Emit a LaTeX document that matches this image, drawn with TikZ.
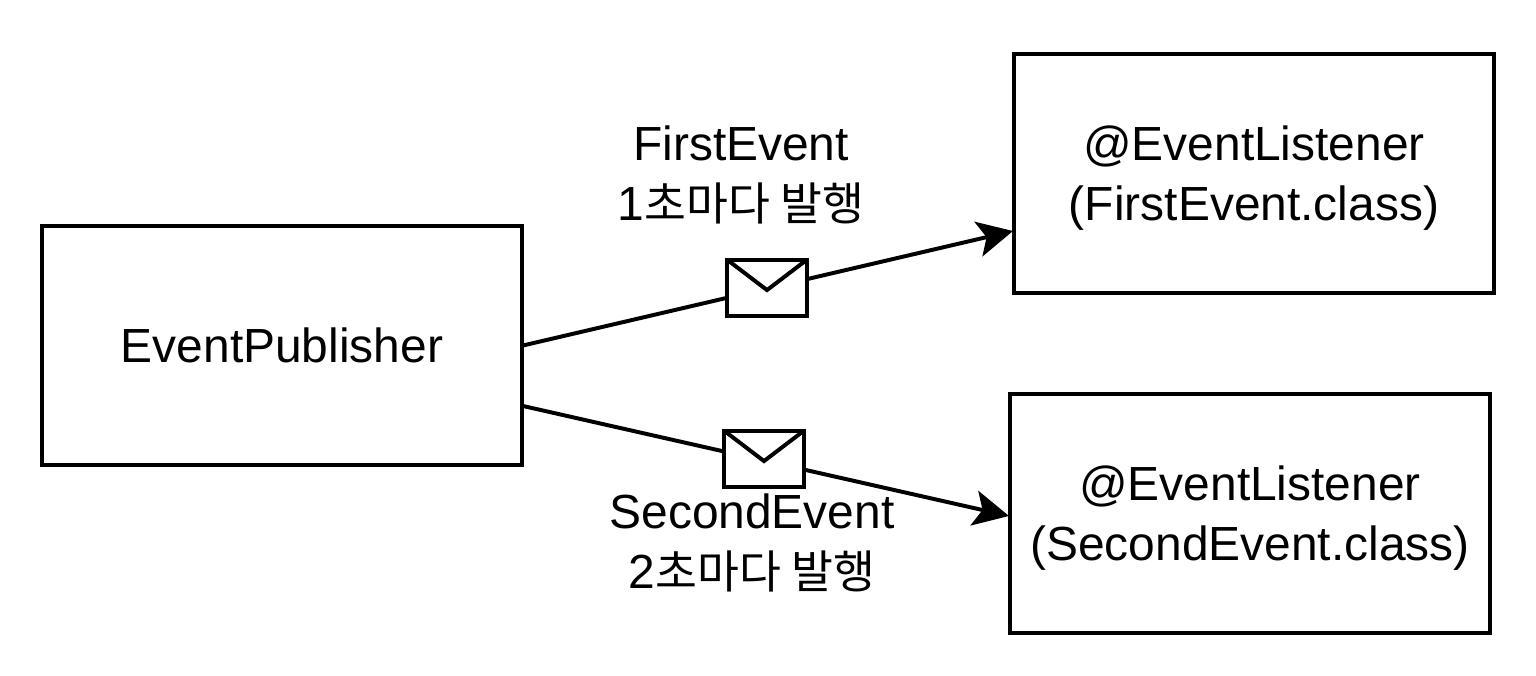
\documentclass[tikz,border=0pt]{standalone}
\usepackage{fontspec}
\setmainfont{Liberation Sans}
\newfontfamily\cjk[Scale=0.95]{Noto Sans CJK KR}
\usetikzlibrary{arrows.meta}
\tikzset{
  box/.style={draw,line width=1.9pt,fill=white,inner sep=0pt,minimum width=230.2pt,minimum height=114.8pt},
  flow/.style={line width=1.9pt,-{Stealth[length=17pt,width=17pt,inset=4pt]}},
  label/.style={font=\fontsize{23pt}{28.8pt}\selectfont,align=center},
  envelope/.style={draw,line width=1.9pt,fill=white,inner sep=0pt,minimum width=38pt,minimum height=26.5pt},
  flap/.style={line width=1.9pt},
}
\begin{document}
\begin{tikzpicture}[x=0.48pt,y=-0.48pt]
\useasboundingbox[fill=white] (0,0) rectangle (1536,676);
\node[box,label] (publisher) at (282,345.5) {\raisebox{0.5pt}{EventPublisher}};
\node[box,label,text depth=0pt] (first) at (1254,173.5) {@EventListener\\(FirstEvent.class)};
\node[box,label,text depth=0pt] (second) at (1250,513.5) {@EventListener\\(SecondEvent.class)};
\coordinate (firstout) at (523,345.5);
\coordinate (secondout) at (523,406);
\coordinate (firstin) at (1013,231);
\coordinate (secondin) at (1009,516);
\draw[flow] (firstout) -- (firstin);
\draw[flow] (secondout) -- (secondin);
\node[envelope] (firstmail) at (767,288) {};
\draw[flap] ([shift={(1.3pt,-1pt)}]firstmail.north west) -- ([yshift=-1pt]firstmail.center) -- ([shift={(-1.3pt,-1pt)}]firstmail.north east);
\node[envelope] (secondmail) at (764,459) {};
\draw[flap] ([shift={(1.3pt,-1pt)}]secondmail.north west) -- ([yshift=-1pt]secondmail.center) -- ([shift={(-1.3pt,-1pt)}]secondmail.north east);
\node[label] (firsttext) at (741,175) {FirstEvent\\1{\cjk 초마다 발행}};
\node[label] (secondtext) at (752,543) {SecondEvent\\2{\cjk 초마다 발행}};
\end{tikzpicture}
\end{document}
